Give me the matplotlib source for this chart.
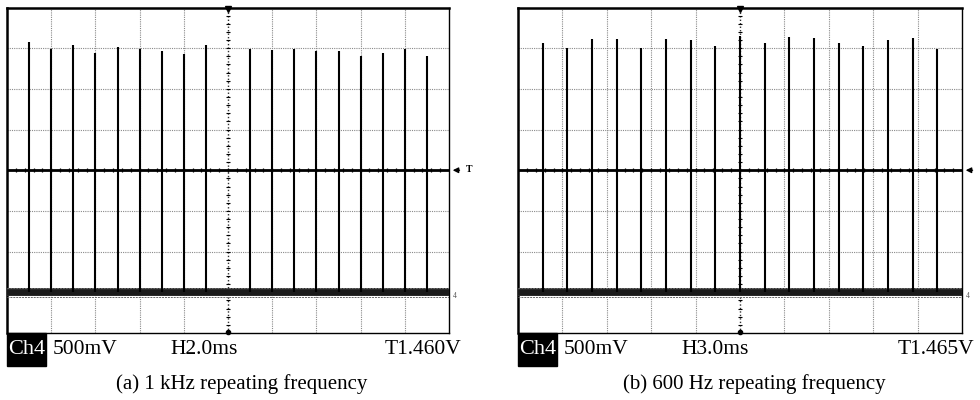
import numpy as np
import matplotlib
matplotlib.use("Agg")
import matplotlib.pyplot as plt
from matplotlib.patches import Rectangle

# ---- data read off the two scope screens ----
# (a) 1 kHz, H2.0ms/div : pulse times (ms) and peak height above baseline (V)
t_a = [1, 2, 3, 4, 5, 6, 7, 8, 9, 11, 12, 13, 14, 15, 16, 17, 18, 19]
v_a = [3.08, 2.99, 3.04, 2.94, 3.01, 2.99, 2.96, 2.93, 3.04,
       2.99, 2.98, 2.99, 2.96, 2.96, 2.90, 2.94, 2.99, 2.90]
# (b) 600 Hz, H3.0ms/div
t_b = [1.67, 3.33, 5.0, 6.67, 8.33, 10.0, 11.67, 13.33, 15.0,
       16.67, 18.33, 20.0, 21.67, 23.33, 25.0, 26.67, 28.33]
v_b = [3.06, 3.00, 3.11, 3.11, 3.00, 3.11, 3.10, 3.03, 3.15,
       3.06, 3.14, 3.12, 3.06, 3.03, 3.10, 3.12, 2.99]

volts_per_div = 0.5
baseline_div = -3.0

panels = [
    dict(t=t_a, v=v_a, ms_per_div=2.0, hlabel="H2.0ms", tlabel="T1.460V",
         caption="(a) 1 kHz repeating frequency", trig="T"),
    dict(t=t_b, v=v_b, ms_per_div=3.0, hlabel="H3.0ms", tlabel="T1.465V",
         caption="(b) 600 Hz repeating frequency", trig=""),
]

W, H = 980, 400
fig = plt.figure(figsize=(W / 100, H / 100), dpi=100)
serif = ["Liberation Serif", "DejaVu Serif"]

# axes boxes in pixels: (left, top, right, bottom)
boxes = [(7, 7.5, 449, 333), (518, 7.5, 962, 333)]


def fx(px):
    return px / W


def fy(py):
    return 1 - py / H


for p, (l, t, r, b) in zip(panels, boxes):
    ax = fig.add_axes([fx(l), fy(b), fx(r - l), (b - t) / H])
    ax.set_xlim(0, 10)
    ax.set_ylim(-4, 4)
    ax.set_xticks([])
    ax.set_yticks([])
    for s in ax.spines.values():
        s.set_color("black")
        s.set_linewidth(1.0)
    ax.spines["top"].set_linewidth(1.8)
    ax.spines["left"].set_linewidth(1.8)

    # graticule
    for gx in range(1, 10):
        if gx == 5:
            continue
        ax.axvline(gx, color="#8a8a8a", lw=0.8, ls=(0, (1, 1)), zorder=1)
    for gy in range(-3, 4):
        if gy == 0:
            continue
        ax.axhline(gy, color="#8a8a8a", lw=0.8, ls=(0, (1, 1)), zorder=1)

    # centre axes with minor ticks
    ax.axvline(5, color="#303030", lw=1.0, ls=(0, (1, 1.5)), zorder=2)
    ax.axhline(0, color="black", lw=2.0, zorder=2)
    tk_x = np.arange(0.2, 10, 0.2)
    ax.plot(tk_x, np.zeros_like(tk_x), ls="none", marker="|", ms=3.5,
            mew=0.9, color="black", zorder=3)
    tk_y = np.arange(-3.8, 4, 0.2)
    ax.plot(np.full_like(tk_y, 5), tk_y, ls="none", marker="_", ms=3,
            mew=0.8, color="black", zorder=3)
    ax.plot([5], [3.97], marker="v", ms=5, color="black", clip_on=False, zorder=4)
    ax.plot([5], [-3.97], marker="o", ms=3, color="black", clip_on=False, zorder=4)

    # noise band of the baseline
    ax.axhspan(baseline_div - 0.1, baseline_div + 0.1, color="#2a2a2a", lw=0, zorder=3)
    ax.axhspan(baseline_div - 0.06, baseline_div + 0.06, color="#1a1a1a", lw=0, zorder=3)
    ax.axhline(baseline_div + 0.11, color="#6a6a6a", lw=0.7, ls=(0, (2, 1)), zorder=3)
    ax.axhline(baseline_div - 0.11, color="#6a6a6a", lw=0.7, ls=(0, (2, 1)), zorder=3)

    # pulses
    xs = np.array(p["t"]) / p["ms_per_div"]
    tops = baseline_div + np.array(p["v"]) / volts_per_div
    ax.vlines(xs, baseline_div, tops, color="black", lw=1.5, zorder=4)

    # right-edge markers
    ax.annotate("", xy=(10.02, 0), xytext=(10.3, 0), xycoords="data",
                arrowprops=dict(arrowstyle="-|>", color="black", lw=1.0,
                                mutation_scale=8), annotation_clip=False)
    if p["trig"]:
        ax.text(10.38, 0.02, p["trig"], fontsize=7, fontweight="bold",
                va="center", ha="left", family=serif)
    ax.text(10.08, baseline_div - 0.1, "4", fontsize=5.5, va="center",
            ha="left", color="#555555", family=serif)

    # readout row
    fig.patches.append(Rectangle((fx(l), fy(366)), fx(39), (366 - 333) / H,
                                 transform=fig.transFigure, color="black",
                                 zorder=0))
    ry = fy(350)
    fig.text(fx(l + 20), ry, "Ch4", color="white", fontsize=16,
             ha="center", va="center", family=serif)
    fig.text(fx(l + 46), ry, "500mV", fontsize=15.5, ha="left", va="center",
             family=serif)
    fig.text(fx(l + 163), ry, p["hlabel"], fontsize=15.5, ha="left",
             va="center", family=serif)
    fig.text(fx(r + 12), ry, p["tlabel"], fontsize=15.5, ha="right",
             va="center", family=serif)
    fig.text(fx((l + r) / 2 + 14), fy(384), p["caption"], fontsize=15,
             ha="center", va="center", family=serif)

fig.savefig("out.png", dpi=100, facecolor="white")
